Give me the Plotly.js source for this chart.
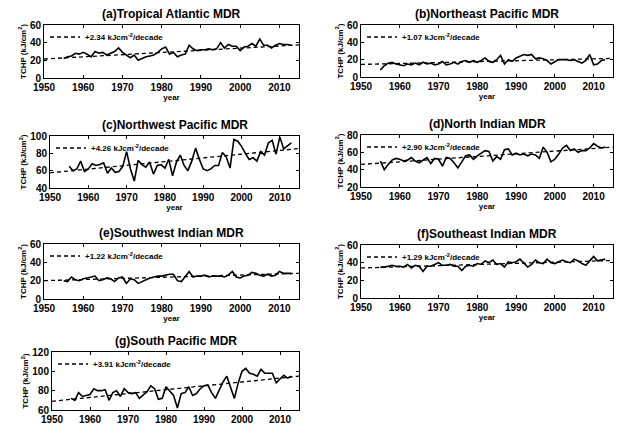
<!DOCTYPE html>
<html>
<head>
<meta charset="utf-8">
<script src="https://cdn.plot.ly/plotly-3.0.1.min.js"></script>
<style>html,body{margin:0;padding:0;background:#fff;}#chart{width:618px;height:429px;}</style>
</head>
<body>
<div id="chart"></div>
<script>
const years = [1955,1956,1957,1958,1959,1960,1961,1962,1963,1964,1965,1966,1967,1968,1969,1970,1971,1972,1973,1974,1975,1976,1977,1978,1979,1980,1981,1982,1983,1984,1985,1986,1987,1988,1989,1990,1991,1992,1993,1994,1995,1996,1997,1998,1999,2000,2001,2002,2003,2004,2005,2006,2007,2008,2009,2010,2011,2012,2013];

const tropicalAtlantic = [22,24,25,28,27,29,27,24,30,28,29,26,28,30,34,29,26,23,26,20,22,24,25,26,29,33,35,27,29,24,26,27,37,33,31,32,32,33,32,33,40,34,38,36,36,31,35,36,39,36,44,37,37,34,37,39,38,38,37];
const northeastPacific = [8,13,16,17,15,14,13,15,14,16,14,17,15,16,14,15,18,14,15,17,15,18,19,17,19,17,19,22,18,17,20,25,15,20,18,22,24,26,25,26,21,22,21,19,15,18,20,20,20,19,20,18,16,19,26,14,15,19,20];
const northwestPacific = [65,60,62,71,59,62,68,66,67,69,57,63,58,59,65,82,62,48,72,67,64,70,56,66,67,63,73,54,70,78,66,60,71,86,73,62,60,62,66,66,81,76,63,96,94,88,80,73,75,71,82,78,92,95,79,99,85,88,92];
const northIndian = [50,40,46,51,53,52,50,51,54,50,48,51,54,47,53,52,44,54,53,48,42,49,56,57,52,56,59,62,61,50,55,52,63,64,57,59,57,58,56,58,57,53,66,60,49,52,58,65,68,62,64,60,62,62,65,70,67,65,66];
const southwestIndian = [20,19,24,21,20,22,23,24,25,20,21,23,22,19,23,24,17,22,21,17,19,21,23,24,25,25,26,27,27,20,19,24,30,24,25,25,26,24,25,25,25,24,26,30,24,23,25,26,29,28,26,25,27,25,26,30,28,28,28];
const southeastIndian = [35,35,36,37,36,36,35,38,34,37,36,30,36,36,38,40,37,37,38,36,36,31,36,37,36,39,38,42,40,43,38,39,35,41,40,41,44,39,35,38,43,40,39,44,40,39,41,43,41,40,44,42,39,37,42,47,42,43,44];
const southPacific = [72,70,78,74,75,76,82,80,80,81,70,78,80,74,82,78,77,78,72,76,79,85,82,71,72,84,80,75,62,77,78,84,75,77,82,85,86,78,72,80,89,95,84,72,88,100,103,98,97,95,102,98,98,98,88,92,96,93,95];

const trendYears = [1950, 2015];
const trendA = [21.5, 37.5];
const trendB = [14.5, 21.5];
const trendC = [57.5, 85.5];
const trendD = [46, 66];
const trendE = [20, 28];
const trendF = [34, 42.5];
const trendG = [69, 95];

const panelTitles = ["(a)Tropical Atlantic MDR","(b)Northeast Pacific MDR","(c)Northwest Pacific MDR","(d)North Indian MDR","(e)Southwest Indian MDR","(f)Southeast Indian MDR","(g)South Pacific MDR"];
const trendLabels = ["+2.34 kJcm<sup>-2</sup>/decade","+1.07 kJcm<sup>-2</sup>/decade","+4.26 kJcm<sup>-2</sup>/decade","+2.90 kJcm<sup>-2</sup>/decade","+1.22 kJcm<sup>-2</sup>/decade","+1.29 kJcm<sup>-2</sup>/decade","+3.91 kJcm<sup>-2</sup>/decade"];
const yRanges = [[0,60],[0,60],[40,100],[20,80],[0,60],[0,60],[60,120]];
const yTicks = [[0,20,40,60],[0,20,40,60],[40,60,80,100],[20,40,60,80],[0,20,40,60],[0,20,40,60],[60,80,100,120]];
const xTicks = [1950,1960,1970,1980,1990,2000,2010];

const series = [tropicalAtlantic,northeastPacific,northwestPacific,northIndian,southwestIndian,southeastIndian,southPacific];
const trends = [trendA,trendB,trendC,trendD,trendE,trendF,trendG];

// pixel boxes of plot areas [left,right,top,bottom]
const W = 618, H = 429;
const boxes = [
  [44,299,25,78],
  [361,613,25,77],
  [50,299,136,188],
  [361,613,135,187],
  [44,299,244,299],
  [361,613,245,298],
  [52,299,352,410]
];

const FONT = "Liberation Sans, Arial, sans-serif";
const traces = [];
const layout = {
  width: W, height: H,
  margin: {l:0,r:0,t:0,b:0},
  paper_bgcolor: "#fff", plot_bgcolor: "#fff",
  font: {family: FONT, color: "#000", size: 9, weight: 700},
  showlegend: true,
  annotations: []
};

for (let i = 0; i < 7; i++) {
  const n = i === 0 ? "" : String(i+1);
  const b = boxes[i];
  const xa = "xaxis" + n, ya = "yaxis" + n;
  const lg = "legend" + n;
  layout[xa] = {
    domain: [b[0]/W, b[1]/W],
    anchor: "y" + n,
    range: [1950, 2015],
    tickvals: xTicks,
    ticks: "inside", ticklen: 3, tickwidth: 1, tickcolor: "#000",
    showline: true, linecolor: "#000", linewidth: 1, mirror: "ticks",
    showgrid: false, zeroline: false,
    tickfont: {family: FONT, size: 10, weight: 700},
    title: i < 6 ? {text: "year", font: {family: FONT, size: 8, weight: 700}, standoff: 0} : {text: ""}
  };
  layout[ya] = {
    domain: [1 - b[3]/H, 1 - b[2]/H],
    anchor: "x" + n,
    range: yRanges[i],
    tickvals: yTicks[i],
    ticks: "inside", ticklen: 3, tickwidth: 1, tickcolor: "#000",
    showline: true, linecolor: "#000", linewidth: 1, mirror: "ticks",
    showgrid: false, zeroline: false,
    tickfont: {family: FONT, size: 10, weight: 700},
    title: {text: "TCHP (kJ/cm<sup>2</sup>)", font: {family: FONT, size: 8, weight: 700}, standoff: 2}
  };
  layout[lg] = {
    x: (b[0] + 1)/W, xanchor: "left",
    y: 1 - (b[2] + 12)/H, yanchor: "middle",
    bgcolor: "rgba(0,0,0,0)", borderwidth: 0,
    font: {family: FONT, size: 8, weight: 700},
    itemwidth: 30, tracegroupgap: 0
  };
  traces.push({
    x: years, y: series[i], type: "scatter", mode: "lines",
    line: {color: "#000", width: 1.6},
    xaxis: "x" + n, yaxis: "y" + n, showlegend: false, hoverinfo: "skip"
  });
  traces.push({
    x: trendYears, y: trends[i], type: "scatter", mode: "lines",
    line: {color: "#000", width: 1.3, dash: "4px,3px"},
    xaxis: "x" + n, yaxis: "y" + n, showlegend: true, legend: lg,
    name: trendLabels[i], hoverinfo: "skip"
  });
  layout.annotations.push({
    text: panelTitles[i], xref: "paper", yref: "paper",
    x: (b[0] + b[1]) / 2 / W, y: 1 - (b[2] - 2)/H,
    xanchor: "center", yanchor: "bottom", showarrow: false,
    font: {family: FONT, size: 12, weight: 700, color: "#000"}
  });
}

Plotly.newPlot("chart", traces, layout, {displayModeBar: false, staticPlot: true});
</script>
</body>
</html>
